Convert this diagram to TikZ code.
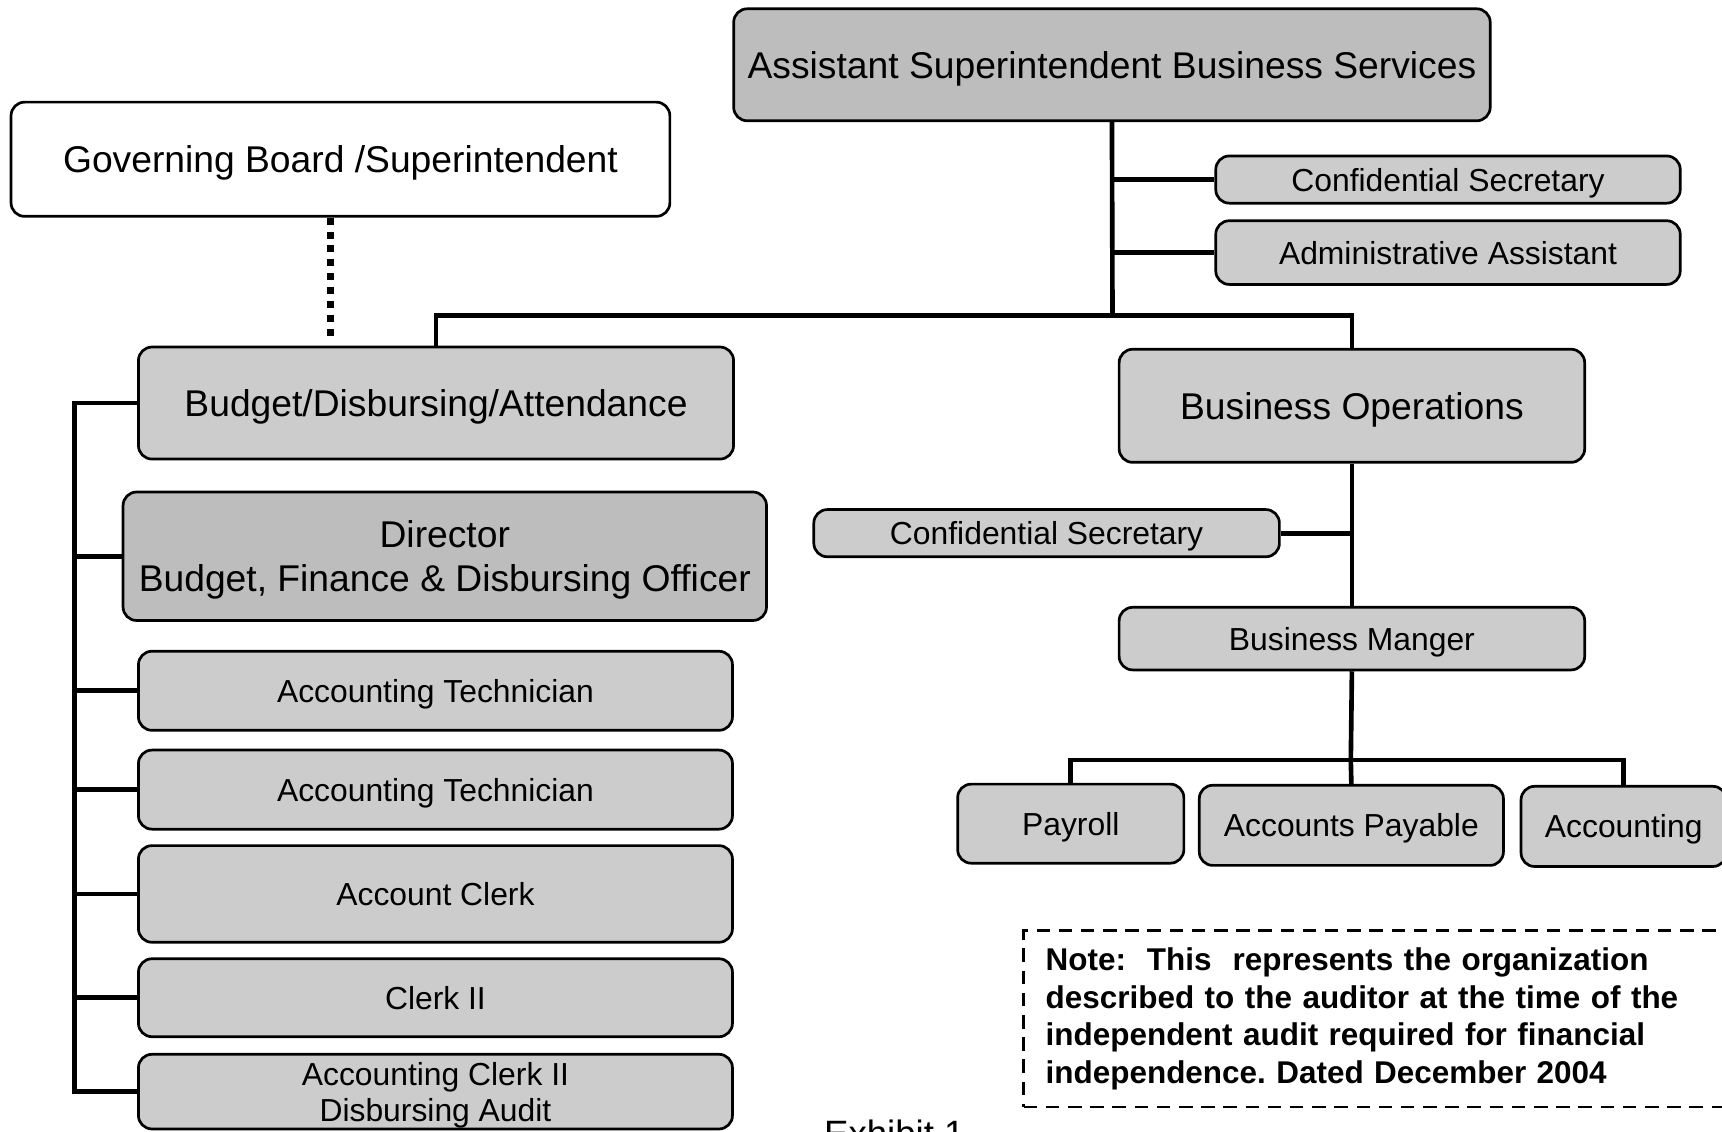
\documentclass[tikz,border=0pt]{standalone}
\usepackage{fontspec}
\setmainfont{Liberation Sans}

\begin{document}
\begin{tikzpicture}[
            x=0.02cm, y=-0.02cm,
            box/.style = {
                draw, line width=1.4pt, rounded corners=7pt,
                fill=black!20, inner sep=0pt, align=center, text depth=0pt,
                font=\fontsize{16.5pt}{19pt}\selectfont
            },
            bigbox/.style = {
                box, font=\fontsize{19.3pt}{23pt}\selectfont
            },
            darkbox/.style = {bigbox, fill=black!26},
            link/.style = {line width=2.4pt},
            dotlink/.style = {
                line width=3.2pt, dash pattern=on 3.6pt off 3.6pt
            },
            notebox/.style = {
                draw, line width=1.3pt, dash pattern=on 7pt off 4.5pt,
                inner xsep=0.4cm, inner ysep=0pt, align=left, text width=12.38cm,
                font=\bfseries\frenchspacing\fontsize{16.3pt}{19.4pt}\selectfont
            }
            ]
            \useasboundingbox (0,0) rectangle (1568,1030);

            % Nodes
            \node[bigbox, fill=white, minimum width=12cm, minimum height=2.08cm]
                (gov) at (310,145) {Governing Board /Superintendent};
            \node[darkbox, minimum width=13.78cm, minimum height=2.04cm]
                (ass) at (1012.5,59) {Assistant Superintendent Business Services};
            \node[box, minimum width=8.46cm, minimum height=0.86cm]
                (csec1) at (1318.5,163.5) {Confidential Secretary};
            \node[box, minimum width=8.46cm, minimum height=1.16cm]
                (admin) at (1318.5,230) {Administrative Assistant};

            \node[bigbox, minimum width=10.84cm, minimum height=2.04cm]
                (bda) at (397,367) {Budget/Disbursing/Attendance};
            \node[bigbox, minimum width=8.48cm, minimum height=2.06cm]
                (bops) at (1231,369.5) {Business Operations};

            \node[darkbox, minimum width=11.72cm, minimum height=2.34cm]
                (dir) at (405,506.5) {Director\\Budget, Finance \& Disbursing Officer};
            \node[box, minimum width=10.82cm, minimum height=1.44cm]
                (tech1) at (396.5,629) {Accounting Technician};
            \node[box, minimum width=10.82cm, minimum height=1.44cm]
                (tech2) at (396.5,719) {Accounting Technician};
            \node[box, minimum width=10.82cm, minimum height=1.76cm]
                (aclerk) at (396.5,814) {Account Clerk};
            \node[box, minimum width=10.82cm, minimum height=1.42cm]
                (clerk) at (396.5,908.5) {Clerk II};
            \node[box, minimum width=10.82cm, minimum height=1.36cm,
                  font=\fontsize{16.5pt}{18.7pt}\selectfont]
                (acclerk) at (396.5,994) {Accounting Clerk II\\Disbursing Audit};

            \node[box, minimum width=8.48cm, minimum height=0.86cm]
                (csec2) at (953,485.5) {Confidential Secretary};
            \node[box, minimum width=8.48cm, minimum height=1.14cm]
                (bman) at (1231,581.5) {Business Manger};
            \node[box, minimum width=4.12cm, minimum height=1.44cm]
                (payroll) at (975,750) {Payroll};
            \node[box, minimum width=5.54cm, minimum height=1.46cm]
                (apay) at (1230.5,751.5) {Accounts Payable};
            \node[box, minimum width=3.74cm, minimum height=1.46cm]
                (acct) at (1478.5,752.5) {Accounting};

            \node[notebox, anchor=north west, minimum height=3.22cm]
                (note) at (931,846) {Note:~ This~ represents the organization\\
                described to the auditor at the time of the\\
                independent audit required for financial\\
                independence. Dated December 2004};
            \node[anchor=north west, inner sep=0pt, font=\fontsize{19pt}{23pt}\selectfont]
                (exhibit) at (750,1019) {Exhibit 1};

            % Junctions
            \coordinate (jtop) at (1013,287);
            \coordinate (jbot) at (1230,692);
            \coordinate (spine) at (68,363);

            % Links
            \draw[link] (ass.south) -- (jtop);
            \draw[link] (ass.south |- csec1.west) -- (csec1.west);
            \draw[link] (ass.south |- admin.west) -- (admin.west);
            \draw[link] (bda.north) |- (jtop) -| (bops.north);
            \draw[dotlink, shorten >=0.16cm] ([xshift=-0.18cm]gov.south) -- ([xshift=-0.18cm]gov.south |- bda.north);

            \draw[link] (bda.west) -- (bda.west -| spine) -- (acclerk.west -| spine) -- (acclerk.west);
            \foreach \n in {dir,tech1,tech2,aclerk,clerk}
                \draw[link] (\n.west -| spine) -- (\n.west);

            \draw[link] (bops.south) -- (bman.north);
            \draw[link] (csec2.east) -- (csec2.east -| bops.south);
            \draw[link] (bman.south) -- (jbot);
            \draw[link] (payroll.north) |- (jbot) -| (acct.north);
            \draw[link] (jbot) -- (apay.north);
        \end{tikzpicture}
\end{document}
